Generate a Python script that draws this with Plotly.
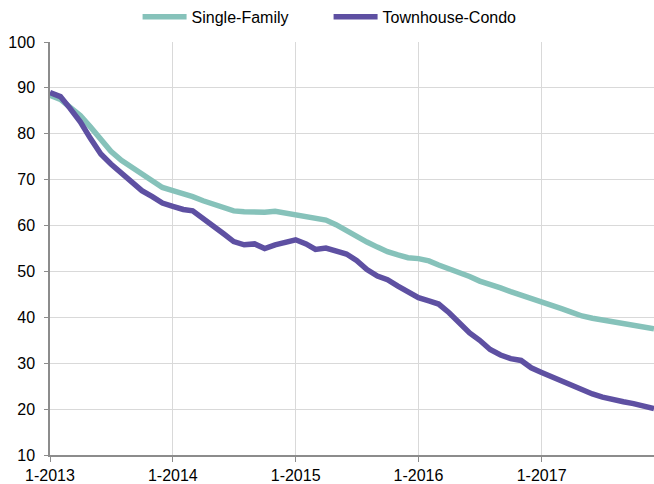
import pandas as pd
import plotly.graph_objects as go

months = pd.date_range("2013-01-01", periods=60, freq="MS")
tick_vals = ["2013-01-01", "2014-01-01", "2015-01-01", "2016-01-01", "2017-01-01"]
tick_text = ["1-2013", "1-2014", "1-2015", "1-2016", "1-2017"]

single_family = [
    88.4, 87.5, 85.8, 84.0, 81.5, 78.8, 76.2, 74.2, 72.7, 71.0, 69.5, 68.3,
    67.6, 67.0, 66.3, 65.4, 64.6, 63.8, 63.2, 63.0, 62.8, 62.9, 63.1, 62.7,
    62.3, 61.9, 61.6, 61.2, 60.2, 58.8, 57.6, 56.4, 55.3, 54.3, 53.6, 53.0,
    52.8, 52.3, 51.4, 50.6, 49.8, 48.9, 47.9, 47.0, 46.4, 45.6, 44.9, 44.0,
    43.4, 42.7, 41.9, 41.1, 40.3, 39.8, 39.4, 39.0, 38.7, 38.2, 37.8, 37.5,
]
townhouse_condo = [
    89.0, 88.1, 85.6, 82.6, 79.0, 75.6, 73.4, 71.5, 69.6, 67.6, 66.3, 64.9,
    64.2, 63.5, 63.2, 61.6, 60.0, 58.2, 56.5, 55.8, 56.0, 55.0, 55.8, 56.4,
    56.9, 56.0, 54.8, 55.1, 54.6, 53.8, 52.4, 50.4, 49.0, 48.2, 46.8, 45.5,
    44.3, 43.6, 42.9, 41.0, 38.8, 36.6, 35.0, 33.0, 31.8, 31.0, 30.6, 29.0,
    28.0, 27.0, 26.0, 25.0, 24.2, 23.3, 22.6, 22.0, 21.6, 21.2, 20.6, 20.1,
]

FONT = "Liberation Sans, Arial, Helvetica, sans-serif"

fig = go.Figure()
fig.add_trace(go.Scatter(x=months, y=single_family, name="Single-Family",
                         mode="lines", line=dict(color="#86C2BA", width=5.5)))
fig.add_trace(go.Scatter(x=months, y=townhouse_condo, name="Townhouse-Condo",
                         mode="lines", line=dict(color="#5E50A2", width=5.5)))

fig.update_layout(
    width=654, height=484,
    margin=dict(l=50, r=0, t=42, b=29, autoexpand=False),
    paper_bgcolor="white", plot_bgcolor="white",
    font=dict(family=FONT, size=16, color="black"),
    showlegend=True,
    legend=dict(orientation="h", x=0.145, xanchor="left", y=1.02, yanchor="bottom",
                font=dict(size=16), itemwidth=44, entrywidth=132,
                entrywidthmode="pixels", bgcolor="rgba(0,0,0,0)"),
    xaxis=dict(
        range=["2013-01-01", "2017-12-01"],
        tickvals=tick_vals, ticktext=tick_text,
        showgrid=True, gridcolor="#D9D9D9", gridwidth=1,
        showline=True, linecolor="#8C8C8C", linewidth=1.5,
        ticks="outside", ticklen=5, tickcolor="#8C8C8C",
        zeroline=False, automargin=False,
    ),
    yaxis=dict(
        range=[10, 100], dtick=10, tick0=10,
        showgrid=True, gridcolor="#D9D9D9", gridwidth=1,
        showline=True, linecolor="#8C8C8C", linewidth=1.5,
        ticks="outside", ticklen=4, tickcolor="#8C8C8C",
        zeroline=False, ticklabelstandoff=6, automargin=False,
    ),
)

post = (
    "document.body.style.margin='0';"
    "document.body.style.overflow='hidden';"
    "var gd=document.getElementById('{plot_id}');"
    "Plotly.relayout(gd,{width:654,height:484});"
)
fig.write_html("out.html", post_script=post,
               config={"responsive": False, "displayModeBar": False})
